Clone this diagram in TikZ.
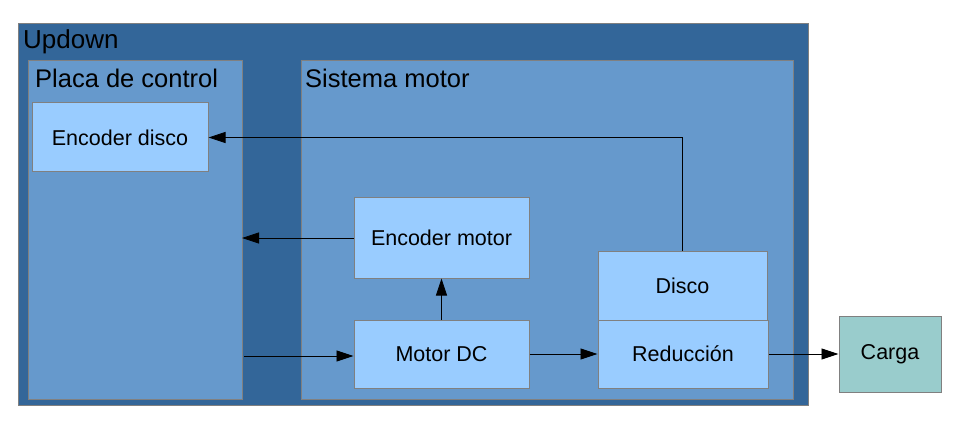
\documentclass[tikz,border=0pt]{standalone}
\usepackage{fontspec}
\setmainfont{Liberation Sans}
\usetikzlibrary{arrows.meta}
\definecolor{outerblue}{HTML}{336699}
\definecolor{midblue}{HTML}{6699CC}
\definecolor{lightblue}{HTML}{99CCFF}
\definecolor{teal}{HTML}{99CCCC}
\definecolor{edge}{HTML}{808080}
\tikzset{
  x=1pt, y=-1pt,
  frame/.style={draw=edge, line width=1pt},
  blk/.style={frame, fill=lightblue, font=\fontsize{21.5}{24}\selectfont},
  conn/.style={line width=0.8pt, -{Triangle[length=17pt,width=11pt]}},
}
\begin{document}
\begin{tikzpicture}
\useasboundingbox (0,0) rectangle (958,422);
% containers
\draw[frame, fill=outerblue] (18,24) rectangle (808,405);
\node[anchor=west, inner sep=0pt, font=\fontsize{26}{28}\selectfont] (lupd) at (23,42) {Updown};
\draw[frame, fill=midblue] (28,61) rectangle (242,399);
\node[anchor=west, inner sep=0pt, font=\fontsize{25.5}{28}\selectfont] (lpla) at (35,78) {Placa de control};
\draw[frame, fill=midblue] (301,61) rectangle (793,399);
\node[anchor=west, inner sep=0pt, font=\fontsize{25.5}{28}\selectfont] (lsis) at (305,78) {Sistema motor};
\coordinate (plr1) at (242,238);
\coordinate (plr2) at (244,356);
% blocks
\node[blk, minimum width=176pt, minimum height=69pt] (encd) at (120,137.5) {Encoder disco};
\node[blk, minimum width=175pt, minimum height=80pt] (encm) at (441.5,238) {Encoder motor};
\node[blk, minimum width=175pt, minimum height=68pt] (mdc) at (441.5,354) {Motor DC};
\node[blk, minimum width=169pt, minimum height=69pt] (disco) at (682.5,285.5) {Disco};
\node[blk, minimum width=170pt, minimum height=68pt] (red) at (683,354) {Reducción};
\node[frame, fill=teal, minimum width=102pt, minimum height=76pt, font=\fontsize{21.5}{24}\selectfont] (carga) at (890,354) {Carga};
% connectors
\draw[conn] (disco.north) |- (encd.east);
\draw[conn] (encm.west) -- (plr1);
\draw[conn] (plr2) -- (mdc.west |- plr2);
\draw[conn] (mdc.north) -- (encm.south);
\draw[conn] (mdc.east) -- (red.west);
\draw[conn] (red.east) -- (carga.west);
\end{tikzpicture}
\end{document}
